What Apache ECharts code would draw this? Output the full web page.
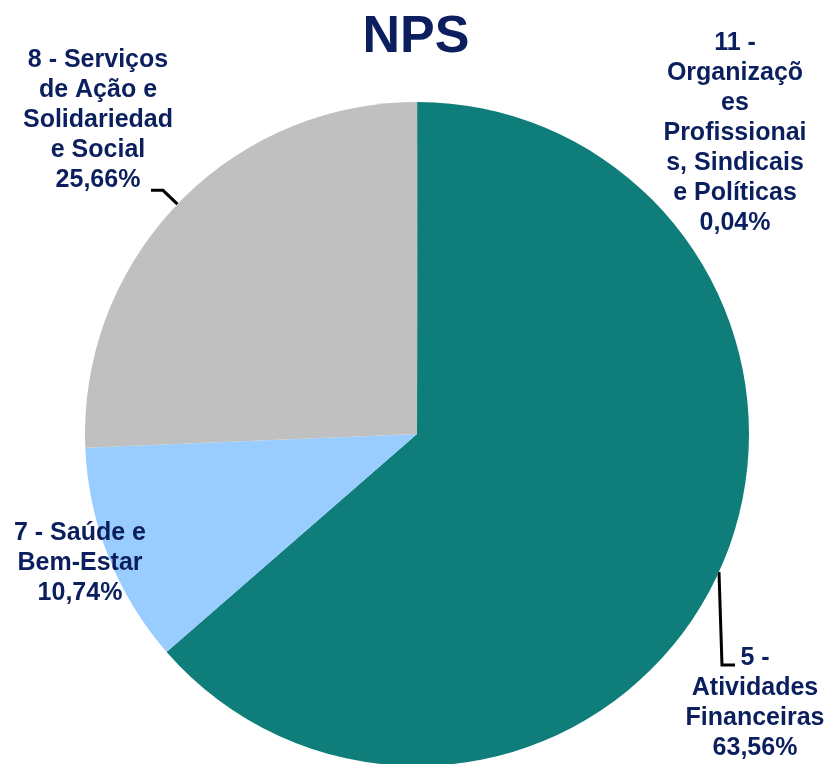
<!DOCTYPE html>
<html>
<head>
<meta charset="utf-8">
<title>NPS</title>
<script src="https://cdn.jsdelivr.net/npm/echarts@6/dist/echarts.min.js"></script>
<style>
  html, body { margin: 0; padding: 0; background: #ffffff; }
  #chart { width: 832px; height: 764px; }
</style>
</head>
<body>
<div id="chart"></div>
<script>
// Sector names (wrapped as they appear next to the pie) and their shares, in %
const categories = [
  '11 - Organizações Profissionais, Sindicais e Políticas',
  '5 - Atividades Financeiras',
  '7 - Saúde e Bem-Estar',
  '8 - Serviços de Ação e Solidariedade Social'
];
const wrappedNames = [
  ['11 -', 'Organizaçõ', 'es', 'Profissionai', 's, Sindicais', 'e Políticas'],
  ['5 -', 'Atividades', 'Financeiras'],
  ['7 - Saúde e', 'Bem-Estar'],
  ['8 - Serviços', 'de Ação e', 'Solidariedad', 'e Social']
];
const shares = [0.04, 63.56, 10.74, 25.66];
const sliceColors = ['#0F7D79', '#0F7D79', '#99CCFF', '#C0C0C0'];

// Layout settings
const PIE_CENTER = [417, 434];
const PIE_RADIUS = 332;
const TEXT_COLOR = '#0B1F5E';
const labelAnchors = [[735, 133], [755, 703], [80, 563], [98, 120]];
// how each label is tied back to its slice: none, radial elbow, or vertical drop
const guideKinds = ['none', 'drop', 'none', 'radial'];

const total = shares.reduce((a, b) => a + b, 0);
function edgePoint(i) {
  let before = 0;
  for (let k = 0; k < i; k++) before += shares[k];
  const mid = (before + shares[i] / 2) / total * Math.PI * 2;
  return [PIE_CENTER[0] + PIE_RADIUS * Math.sin(mid), PIE_CENTER[1] - PIE_RADIUS * Math.cos(mid), mid];
}
function guidePoints(i) {
  const e = edgePoint(i);
  if (guideKinds[i] === 'radial') {
    const p1 = [e[0] + 20 * Math.sin(e[2]), e[1] - 20 * Math.cos(e[2])];
    return [[e[0], e[1]], p1, [p1[0] - 12, p1[1]]];
  }
  if (guideKinds[i] === 'drop') {
    return [[e[0], e[1]], [e[0] + 3, e[1] + 93], [e[0] + 16, e[1] + 93]];
  }
  return null;
}

const pieData = categories.map((name, i) => ({
  name: name,
  value: shares[i],
  itemStyle: { color: sliceColors[i] },
  label: {
    formatter: wrappedNames[i].join('\n') + '\n' + shares[i].toFixed(2).replace('.', ',') + '%'
  },
  labelLine: { show: guideKinds[i] !== 'none' }
}));

const chart = echarts.init(document.getElementById('chart'), null, { renderer: 'canvas' });
chart.setOption({
  backgroundColor: '#ffffff',
  animation: false,
  title: {
    text: 'NPS',
    left: 'center',
    top: 12,
    padding: 0,
    textStyle: {
      fontFamily: 'Liberation Sans, Arial, sans-serif',
      fontSize: 52,
      fontWeight: 'bold',
      color: TEXT_COLOR
    }
  },
  series: [{
    type: 'pie',
    center: PIE_CENTER,
    radius: PIE_RADIUS,
    startAngle: 90,
    clockwise: true,
    avoidLabelOverlap: false,
    minAngle: 0,
    itemStyle: { borderWidth: 0 },
    label: {
      show: true,
      position: 'outside',
      fontFamily: 'Liberation Sans, Arial, sans-serif',
      fontSize: 25,
      fontWeight: 'bold',
      lineHeight: 30,
      color: TEXT_COLOR,
      align: 'center'
    },
    labelLine: {
      show: true,
      length: 20,
      length2: 12,
      lineStyle: { color: '#000000', width: 3 }
    },
    labelLayout: function (params) {
      const i = params.dataIndex;
      const out = {
        x: labelAnchors[i][0],
        y: labelAnchors[i][1],
        align: 'center',
        verticalAlign: 'middle'
      };
      const pts = guidePoints(i);
      if (pts) out.labelLinePoints = pts;
      return out;
    },
    emphasis: { disabled: true },
    data: pieData
  }]
});
</script>
</body>
</html>
